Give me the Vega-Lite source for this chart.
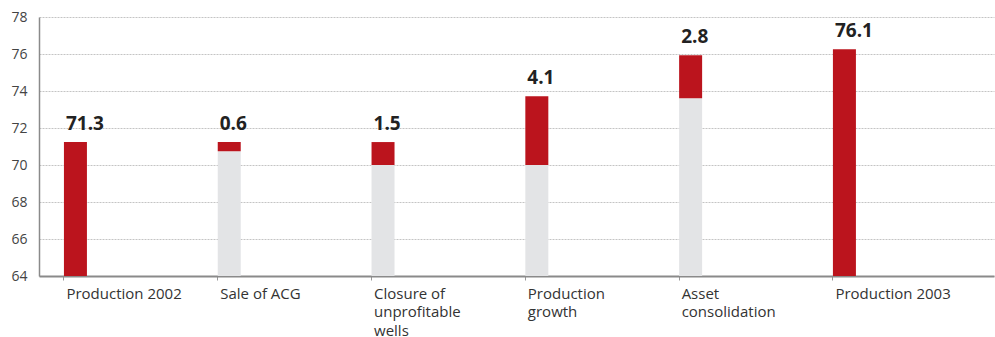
{
  "$schema": "https://vega.github.io/schema/vega-lite/v6.json",
  "width": 955,
  "height": 259,
  "autosize": {"type": "none"},
  "padding": {"left": 39, "top": 17, "right": 1, "bottom": 61},
  "background": "white",
  "config": {
    "view": {"stroke": null},
    "font": "Open Sans"
  },
  "data": {
    "values": [
      {"cat": "Production 2002", "kind": "change", "start": 64, "end": 71.24, "label": "71.3"},
      {"cat": "Sale of ACG", "kind": "base", "start": 64, "end": 70.75, "label": ""},
      {"cat": "Sale of ACG", "kind": "change", "start": 70.75, "end": 71.24, "label": "0.6"},
      {"cat": "Closure of|unprofitable|wells", "kind": "base", "start": 64, "end": 70.0, "label": ""},
      {"cat": "Closure of|unprofitable|wells", "kind": "change", "start": 70.0, "end": 71.24, "label": "1.5"},
      {"cat": "Production|growth", "kind": "base", "start": 64, "end": 70.0, "label": ""},
      {"cat": "Production|growth", "kind": "change", "start": 70.0, "end": 73.72, "label": "4.1"},
      {"cat": "Asset|consolidation", "kind": "base", "start": 64, "end": 73.61, "label": ""},
      {"cat": "Asset|consolidation", "kind": "change", "start": 73.61, "end": 75.93, "label": "2.8"},
      {"cat": "Production 2003", "kind": "change", "start": 64, "end": 76.26, "label": "76.1"}
    ]
  },
  "encoding": {
    "x": {
      "field": "cat",
      "type": "nominal",
      "sort": null,
      "scale": {
        "domain": ["Production 2002", "Sale of ACG", "Closure of|unprofitable|wells", "Production|growth", "Asset|consolidation", "Production 2003"],
        "paddingInner": 0.8505,
        "paddingOuter": 0.53,
        "align": 0.153
      },
      "axis": {
        "title": null,
        "bandPosition": 0,
        "labelAngle": 0,
        "labelAlign": "left",
        "labelBaseline": "top",
        "labelExpr": "split(datum.label, '|')",
        "labelLineHeight": 18.5,
        "labelPadding": 6,
        "labelFontSize": 15,
        "labelColor": "#333333",
        "labelOverlap": false,
        "labelFlush": false,
        "labelBound": false,
        "labelOffset": -9,
        "domainColor": "#8a8a8a",
        "domainWidth": 2,
        "tickColor": "#999999",
        "tickSize": 4,
        "grid": false
      }
    }
  },
  "layer": [
    {
      "mark": {"type": "bar", "cornerRadius": 0},
      "encoding": {
        "y": {
          "field": "start",
          "type": "quantitative",
          "scale": {"domain": [64, 78], "nice": false, "zero": false},
          "axis": {
            "title": null,
            "values": [64, 66, 68, 70, 72, 74, 76, 78],
            "tickCount": 8,
            "labelOverlap": false,
            "labelFontSize": 14,
            "labelColor": "#444444",
            "labelPadding": 12,
            "ticks": false,
            "domainColor": "#8a8a8a",
            "domainWidth": 1.5,
            "grid": true,
            "gridColor": "#c4c4c4",
            "gridDash": [2, 1],
            "gridWidth": 1
          }
        },
        "y2": {"field": "end"},
        "color": {
          "field": "kind",
          "type": "nominal",
          "scale": {"domain": ["base", "change"], "range": ["#e3e4e6", "#bb141d"]},
          "legend": null
        }
      }
    },
    {
      "transform": [{"filter": "datum.kind === 'change'"}],
      "mark": {"type": "text", "align": "left", "baseline": "alphabetic", "dx": 2, "dy": -12, "fontSize": 19, "fontWeight": "bold", "color": "#222222"},
      "encoding": {
        "x": {"field": "cat", "type": "nominal", "sort": null, "bandPosition": 0},
        "y": {"field": "end", "type": "quantitative"},
        "text": {"field": "label"}
      }
    }
  ]
}
